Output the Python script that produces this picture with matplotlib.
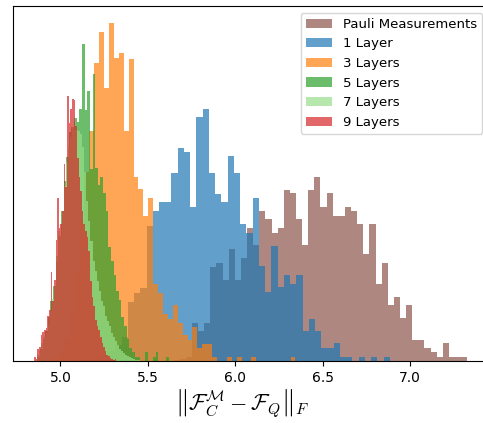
import numpy as np
import matplotlib
matplotlib.use("Agg")
import matplotlib.pyplot as plt

plt.rcParams['mathtext.fontset'] = 'cm'

labels = ["Pauli Measurements", "1 Layer", "3 Layers", "5 Layers", "7 Layers", "9 Layers"]
colors = ["tab:brown", "tab:blue", "tab:orange", "tab:green", "#98df8a", "tab:red"]

# bin ranges (min, max) of each histogram (50 bins each)
pauli_range = (5.578, 7.328)
layer1_range = (5.100, 6.885)
layer3_range = (4.941, 6.345)
layer5_range = (4.868, 5.620)
layer7_range = (4.868, 5.453)
layer9_range = (4.850, 5.320)

pauli_counts = [0, 0, 1, 2, 4, 38, 30, 38, 94, 98, 81, 112, 81, 103, 133, 116, 150, 142, 128, 133,
                171, 168, 142, 116, 171, 184, 154, 168, 145, 145, 154, 150, 137, 107, 137, 77, 98, 56, 64, 43,
                56, 21, 21, 13, 9, 4, 18, 4, 4, 4]
layer1_counts = [1, 1, 2, 3, 6, 10, 16, 24, 59, 68, 73, 135, 150, 159, 159, 189, 214, 210, 154, 245,
                 253, 189, 167, 159, 206, 189, 137, 128, 163, 95, 69, 115, 74, 86, 77, 86, 30, 42, 30, 13,
                 13, 18, 4, 4, 0, 4, 0, 4, 0, 4]
layer3_counts = [2, 4, 10, 22, 50, 90, 140, 190, 231, 299, 330, 274, 339, 304, 309, 231, 303, 184, 172, 145,
                 163, 77, 68, 47, 42, 56, 38, 26, 21, 34, 13, 17, 17, 4, 0, 0, 4, 0, 4, 0,
                 0, 4, 0, 0, 0, 0, 0, 0, 0, 4]
layer5_counts = [4, 12, 22, 30, 44, 60, 75, 100, 125, 150, 180, 205, 230, 235, 244, 240, 253, 318, 252, 271,
                 193, 288, 194, 176, 184, 168, 150, 114, 100, 86, 70, 61, 44, 35, 22, 13, 9, 4, 4, 0,
                 0, 9, 0, 0, 4, 9, 0, 0, 0, 4]
layer7_counts = [6, 10, 18, 24, 28, 36, 50, 62, 75, 105, 130, 125, 150, 175, 200, 215, 225, 235, 232, 232,
                 231, 228, 215, 190, 160, 140, 120, 100, 90, 80, 70, 60, 55, 45, 40, 35, 28, 24, 20, 16,
                 12, 10, 8, 6, 5, 4, 3, 2, 1, 1]
layer9_counts = [4, 2, 12, 14, 26, 29, 31, 33, 45, 51, 89, 60, 81, 121, 163, 133, 137, 150, 198, 174,
                 266, 239, 253, 263, 262, 236, 204, 184, 170, 150, 137, 130, 124, 110, 80, 64, 55, 41, 35, 31,
                 24, 18, 14, 10, 6, 5, 3, 2, 1, 2]

ranges = [pauli_range, layer1_range, layer3_range, layer5_range, layer7_range, layer9_range]
counts = [pauli_counts, layer1_counts, layer3_counts, layer5_counts, layer7_counts, layer9_counts]

fig = plt.figure(figsize=(4.83, 4.23), dpi=100)
ax = fig.add_axes([12.5 / 483, 62 / 423, (489 - 12.5) / 483, 355 / 423])

for rng, cnt, col, lab in zip(ranges, counts, colors, labels):
    edges = np.linspace(rng[0], rng[1], len(cnt) + 1)
    centers = 0.5 * (edges[:-1] + edges[1:])
    ax.hist(centers, bins=edges, weights=cnt, color=col, alpha=0.7,
            histtype='stepfilled', label=lab)

ax.set_xlim(4.726, 7.452)
ax.set_yticks([])
ax.set_xticks([5.0, 5.5, 6.0, 6.5, 7.0])
ax.set_xlabel(r'$\left\|\mathcal{F}_C^{\mathcal{M}} - \mathcal{F}_Q\right\|_F$', fontsize=16)
ax.xaxis.set_label_coords(0.483, -0.076)
ax.xaxis.label.set_va('top')
ax.legend(loc='upper right', fontsize=9.5)

fig.savefig("out.png", dpi=100)
